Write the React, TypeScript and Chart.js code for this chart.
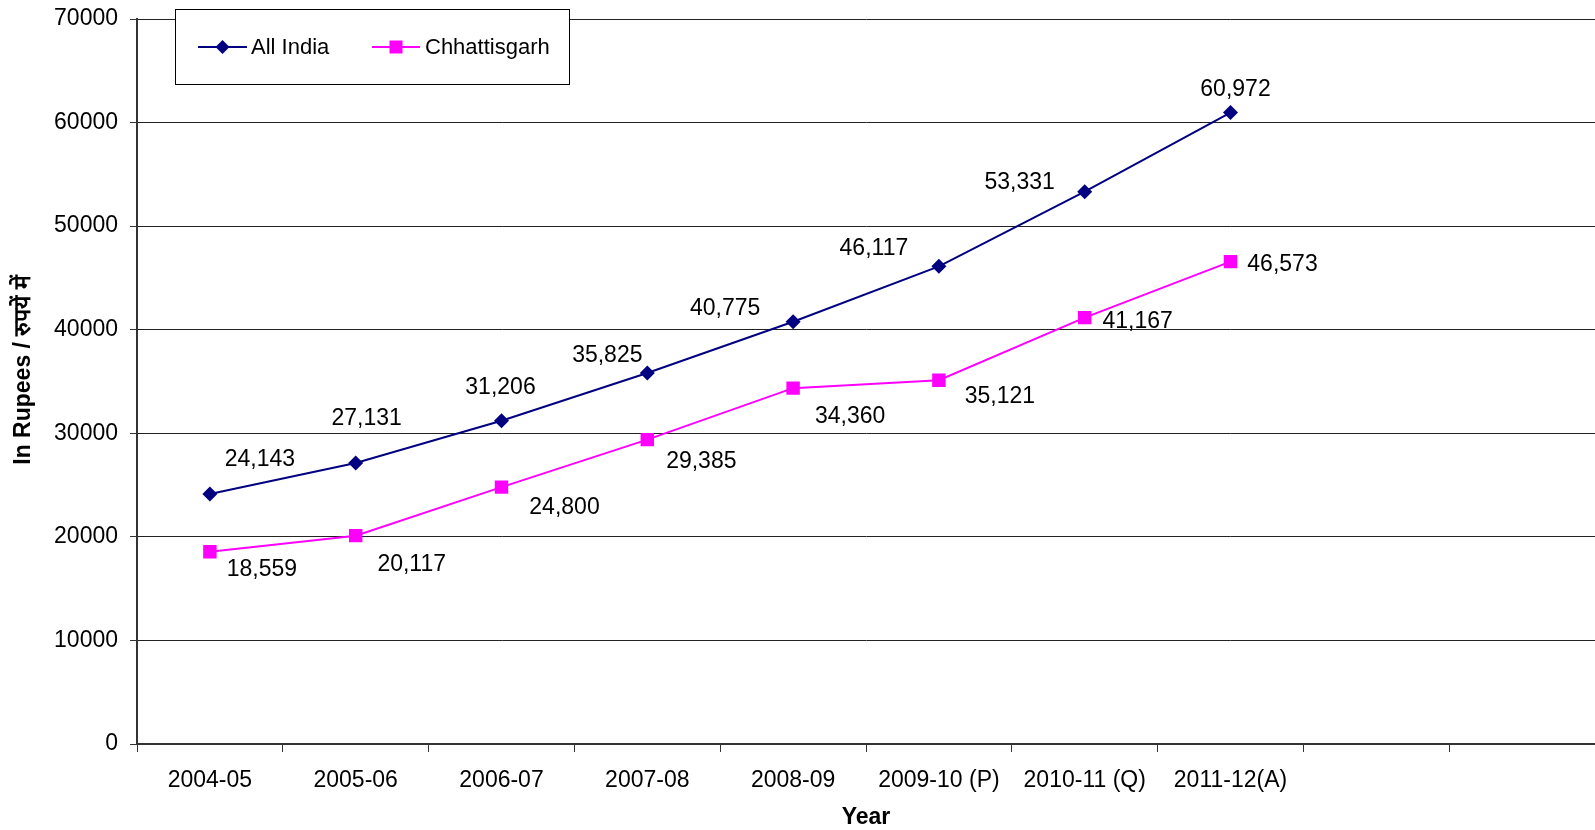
import React, { useEffect, useRef } from "react";
import { Chart, registerables } from "chart.js";

Chart.register(...registerables);

const categories = [
  "2004-05",
  "2005-06",
  "2006-07",
  "2007-08",
  "2008-09",
  "2009-10 (P)",
  "2010-11 (Q)",
  "2011-12(A)",
  "",
  "",
];
const allIndia = [24143, 27131, 31206, 35825, 40775, 46117, 53331, 60972, null, null];
const chhattisgarh = [18559, 20117, 24800, 29385, 34360, 35121, 41167, 46573, null, null];
const seriesNames = ["All India", "Chhattisgarh"];
const yTicks = { min: 0, max: 70000, step: 10000 };
const xTitle = "Year";
const yTitle = "In Rupees / रुपयें में";

// label placement offsets (pixels) relative to each point
const labelOffsets = [
  [[50, -34], [11, -44], [-1, -33], [-40, -17], [-68, -13], [-65, -18], [-65, -9], [5, -23]],
  [[52, 18], [56, 29], [63, 21], [54, 22], [57, 29], [61, 16], [53, 4], [52, 3]],
];

const NAVY = "#000080";
const MAGENTA = "#FF00FF";
const FONT = '"Liberation Sans", Arial, sans-serif';

const customPlugin = {
  id: "customDecor",
  afterDatasetsDraw(chart: any) {
    const ctx = chart.ctx;
    ctx.save();
    ctx.font = `23px ${FONT}`;
    ctx.fillStyle = "#000";
    ctx.textAlign = "center";
    ctx.textBaseline = "middle";
    chart.data.datasets.forEach((ds: any, i: number) => {
      const meta = chart.getDatasetMeta(i);
      meta.data.forEach((pt: any, j: number) => {
        const v = ds.data[j];
        if (v == null) return;
        const off = labelOffsets[i][j] || [0, 0];
        ctx.fillText(v.toLocaleString("en-US"), pt.x + off[0], pt.y + off[1]);
      });
    });
    ctx.restore();
  },
  afterDraw(chart: any) {
    const ctx = chart.ctx;
    const area = chart.chartArea;
    ctx.save();
    // axis titles
    ctx.fillStyle = "#000";
    ctx.font = `bold 23px ${FONT}`;
    ctx.textAlign = "center";
    ctx.textBaseline = "middle";
    ctx.fillText(xTitle, (area.left + area.right) / 2, 818);
    ctx.save();
    ctx.translate(24, 370);
    ctx.rotate(-Math.PI / 2);
    ctx.fillText(yTitle, 0, 0);
    ctx.restore();

    // legend
    const bx = 175.5, by = 9.5, bw = 394, bh = 75;
    ctx.fillStyle = "#fff";
    ctx.fillRect(bx, by, bw, bh);
    ctx.strokeStyle = "#000";
    ctx.lineWidth = 1;
    ctx.strokeRect(bx, by, bw, bh);
    const ly = 47;
    const items = [
      { x0: 198, x1: 247, tx: 251, color: NAVY, shape: "diamond" },
      { x0: 372, x1: 420, tx: 425, color: MAGENTA, shape: "square" },
    ];
    items.forEach((it, k) => {
      ctx.strokeStyle = it.color;
      ctx.lineWidth = 2;
      ctx.beginPath();
      ctx.moveTo(it.x0, ly);
      ctx.lineTo(it.x1, ly);
      ctx.stroke();
      const cx = (it.x0 + it.x1) / 2;
      ctx.fillStyle = it.color;
      if (it.shape === "diamond") {
        ctx.beginPath();
        ctx.moveTo(cx, ly - 7);
        ctx.lineTo(cx + 7, ly);
        ctx.lineTo(cx, ly + 7);
        ctx.lineTo(cx - 7, ly);
        ctx.closePath();
        ctx.fill();
      } else {
        ctx.fillRect(cx - 6.5, ly - 6.5, 13, 13);
      }
      ctx.fillStyle = "#000";
      ctx.font = `22px ${FONT}`;
      ctx.textAlign = "left";
      ctx.textBaseline = "middle";
      ctx.fillText(seriesNames[k], it.tx, ly + 1);
    });
    ctx.restore();
  },
};

export default function App() {
  const canvasRef = useRef<HTMLCanvasElement>(null);

  useEffect(() => {
    document.body.style.margin = "0";
    const canvas = canvasRef.current;
    if (!canvas) return;
    const chart = new Chart(canvas, {
      type: "line",
      data: {
        labels: categories,
        datasets: [
          {
            label: seriesNames[0],
            data: allIndia,
            borderColor: NAVY,
            backgroundColor: NAVY,
            borderWidth: 2,
            pointStyle: "rectRot",
            pointRadius: 7.5,
            pointBorderWidth: 0,
            tension: 0,
            spanGaps: false,
          },
          {
            label: seriesNames[1],
            data: chhattisgarh,
            borderColor: MAGENTA,
            backgroundColor: MAGENTA,
            borderWidth: 2,
            pointStyle: "rect",
            pointRadius: 9.5,
            pointBorderWidth: 0,
            tension: 0,
            spanGaps: false,
          },
        ],
      },
      options: {
        animation: false,
        responsive: false,
        devicePixelRatio: 1,
        layout: { autoPadding: false, padding: { top: 19, right: 0, left: 0, bottom: 0 } },
        plugins: {
          legend: { display: false },
          tooltip: { enabled: false },
        },
        scales: {
          x: {
            type: "category",
            offset: true,
            grid: {
              offset: true,
              drawOnChartArea: false,
              drawTicks: true,
              tickLength: 8,
              tickColor: "#333",
              tickWidth: 1,
            },
            border: { display: true, color: "#333", width: 2 },
            ticks: {
              autoSkip: false,
              maxRotation: 0,
              minRotation: 0,
              padding: 15,
              color: "#000",
              font: { family: FONT, size: 23 },
            },
            afterFit(scale: any) {
              scale.height = 86;
              scale.paddingLeft = 0;
              scale.paddingRight = 0;
            },
          },
          y: {
            min: yTicks.min,
            max: yTicks.max,
            grid: {
              color: "#222",
              lineWidth: 1,
              drawTicks: true,
              tickLength: 7,
              tickColor: "#333",
            },
            border: { display: true, color: "#333", width: 2 },
            ticks: {
              stepSize: yTicks.step,
              padding: 12,
              color: "#000",
              font: { family: FONT, size: 23 },
              callback: (v: any) => String(v),
            },
            afterFit(scale: any) {
              scale.width = 137;
              scale.paddingTop = 0;
              scale.paddingBottom = 0;
            },
          },
        },
      },
      plugins: [customPlugin],
    });
    return () => chart.destroy();
  }, []);

  return (
    <div style={{ position: "absolute", left: 0, top: 0, width: 1595, height: 830 }}>
      <canvas ref={canvasRef} width={1595} height={830} style={{ display: "block" }} />
    </div>
  );
}
